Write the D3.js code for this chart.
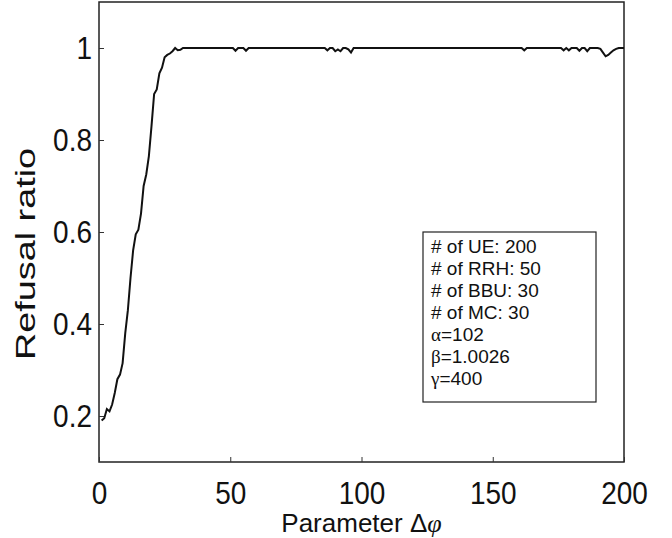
<!DOCTYPE html>
<html>
<head>
<meta charset="utf-8">
<script src="https://cdn.jsdelivr.net/npm/d3@7"></script>
<style>
  body { margin: 0; background: #fff; }
  text { font-family: "Liberation Sans", Arial, sans-serif; fill: #111; }
</style>
</head>
<body>
<div class="chart"></div>
<script>
// refusal ratio for delta phi = 1..200
var deltaPhi = d3.range(1, 201);
var refusal = [
  0.19, 0.195, 0.215, 0.21, 0.225, 0.25, 0.28, 0.29, 0.315, 0.38,
  0.43, 0.50, 0.56, 0.595, 0.605, 0.64, 0.70, 0.725, 0.765, 0.83,
  0.90, 0.91, 0.945, 0.957, 0.98, 0.985, 0.988, 0.993, 1.0, 0.995,
  0.996, 1, 1, 1, 1, 1, 1, 1, 1, 1,
  1, 1, 1, 1, 1, 1, 1, 1, 1, 1,
  1, 0.994, 1, 1, 1, 0.994, 1, 1, 1, 1,
  1, 1, 1, 1, 1, 1, 1, 1, 1, 1,
  1, 1, 1, 1, 1, 1, 1, 1, 1, 1,
  1, 1, 1, 1, 1, 1, 0.995, 1, 1, 0.993,
  0.997, 0.993, 1, 1, 0.997, 0.99, 1, 1, 1, 1,
  1, 1, 1, 1, 1, 1, 1, 1, 1, 1,
  1, 1, 1, 1, 1, 1, 1, 1, 1, 1,
  1, 1, 1, 1, 1, 1, 1, 1, 1, 1,
  1, 1, 1, 1, 1, 1, 1, 1, 1, 1,
  1, 1, 1, 1, 1, 1, 1, 1, 1, 1,
  1, 1, 1, 1, 1, 1, 1, 1, 1, 1,
  1, 0.995, 1, 1, 1, 1, 1, 1, 1, 1,
  1, 1, 1, 1, 1, 1, 0.995, 1, 0.995, 1,
  1, 1, 0.994, 1, 1, 0.993, 1, 1, 1, 1,
  0.998, 0.99, 0.982, 0.985, 0.99, 0.995, 0.998, 1, 1, 1
];
var xTicks = [0, 50, 100, 150, 200];
var yTicks = [0.2, 0.4, 0.6, 0.8, 1];
var legendLines = ["# of UE: 200", "# of RRH: 50", "# of BBU: 30", "# of MC: 30",
                   "\u03b1=102", "\u03b2=1.0026", "\u03b3=400"];

var W = 672, H = 538;
var margin = {top: 2, right: 48, bottom: 76, left: 99};
var width = W - margin.left - margin.right;
var height = H - margin.top - margin.bottom;

var svg = d3.select('.chart').append('svg')
    .attr('width', W)
    .attr('height', H)
  .append('g')
    .attr('transform', `translate(${margin.left}, ${margin.top})`);

var x = d3.scaleLinear().domain([0, 200]).range([0, width]);
var y = d3.scaleLinear().domain([0.1, 1.1]).range([height, 0]);

// box
svg.append('rect')
    .attr('width', width).attr('height', height)
    .attr('fill', 'none').attr('stroke', '#222').attr('stroke-width', 1.5);

var xAxis = svg.append('g')
    .attr('transform', `translate(0, ${height})`)
    .call(d3.axisBottom(x).tickValues(xTicks).tickSizeInner(-5).tickSizeOuter(0));
xAxis.selectAll('text')
    .attr('y', 0).attr('dy', 0)
    .attr('transform', 'translate(0, 42) scale(1, 1.1)')
    .style('font-size', '28px');

var yAxis = svg.append('g')
    .call(d3.axisLeft(y).tickValues(yTicks).tickFormat(d3.format('')).tickSizeInner(-5).tickSizeOuter(0).tickPadding(7));
yAxis.selectAll('text')
    .attr('dy', 0)
    .attr('transform', 'translate(0, 10) scale(1, 1.1)')
    .style('font-size', '28px');

svg.selectAll('.domain').remove();
svg.selectAll('.tick line').attr('stroke', '#333').attr('stroke-width', 1);

// curve
var line = d3.line()
    .x((d, i) => x(deltaPhi[i]))
    .y(d => y(d));

svg.append('path')
    .datum(refusal)
    .attr('d', line)
    .attr('fill', 'none')
    .attr('stroke', '#111')
    .attr('stroke-width', 2);

// axis titles
var xLabel = svg.append('text')
    .attr('x', width / 2)
    .attr('y', 532 - margin.top)
    .attr('text-anchor', 'middle')
    .style('font-size', '26px');
xLabel.append('tspan').text('Parameter \u0394');
xLabel.append('tspan')
    .style('font-family', '"Liberation Serif", serif')
    .style('font-style', 'italic')
    .text('\u03c6');

svg.append('text')
    .attr('transform', `translate(${35 - margin.left}, ${254 - margin.top}) scale(1, 1.35) rotate(-90)`)
    .attr('text-anchor', 'middle')
    .style('font-size', '28px')
    .text('Refusal ratio');

// parameter box
var legend = svg.append('g')
    .attr('transform', `translate(${423 - margin.left}, ${232 - margin.top})`);
legend.append('rect')
    .attr('width', 173).attr('height', 170)
    .attr('fill', '#fff').attr('stroke', '#222').attr('stroke-width', 1.2);

legendLines.forEach(function(s, i) {
  var t = legend.append('text')
      .attr('x', 8)
      .attr('y', 21 + i * 22)
      .style('font-size', '19px');
  if (/[\u03b1-\u03c9]/.test(s[0])) {
    t.append('tspan').style('font-family', '"Liberation Serif", serif').text(s[0]);
    t.append('tspan').text(s.slice(1));
  } else {
    t.text(s);
  }
});
</script>
</body>
</html>
